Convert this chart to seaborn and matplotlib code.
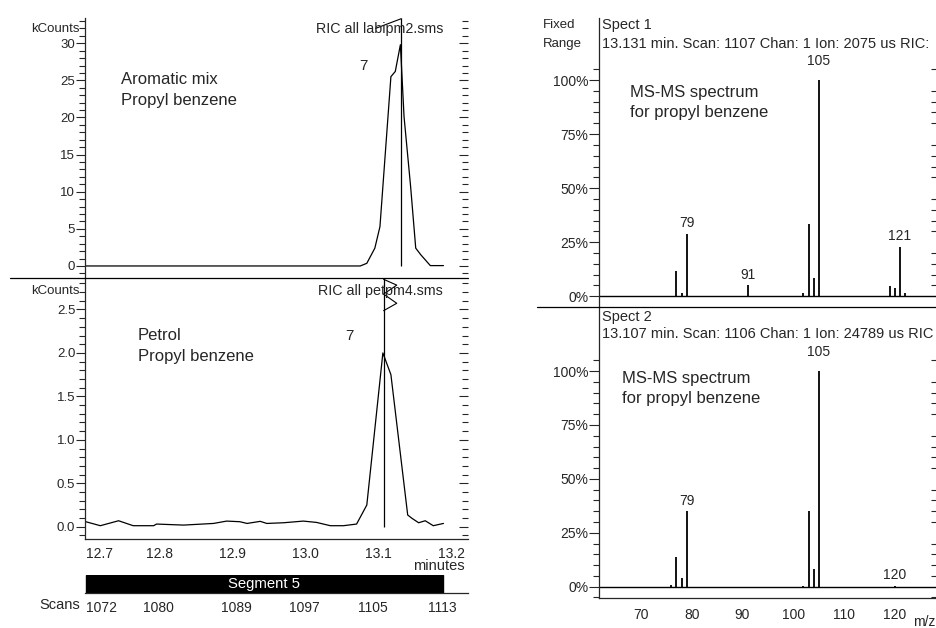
import matplotlib
matplotlib.use("Agg")
import matplotlib.pyplot as plt
import seaborn as sns
import pandas as pd
from matplotlib.lines import Line2D
from matplotlib.ticker import FixedLocator, MultipleLocator

# ---------------- data ----------------
# Chromatogram 1: Aromatic mix (kCounts vs minutes)
ric1_time = [12.699, 13.075, 13.084, 13.095, 13.102, 13.117, 13.123, 13.130,
             13.135, 13.144, 13.151, 13.158, 13.171, 13.189]
ric1_kcounts = [0.0, 0.0, 0.36, 2.4, 5.3, 25.5, 26.2, 29.8,
                20.1, 10.7, 2.4, 1.5, 0.05, 0.05]
ric1_marker = 13.131

# Chromatogram 2: Petrol (kCounts vs minutes)
ric2_time = [12.699, 12.719, 12.744, 12.764, 12.792, 12.796, 12.833, 12.874,
             12.892, 12.910, 12.920, 12.938, 12.947, 12.970, 12.997, 13.015,
             13.034, 13.052, 13.070, 13.084, 13.106, 13.117, 13.140, 13.146,
             13.155, 13.164, 13.175, 13.189]
ric2_kcounts = [0.058, 0.012, 0.069, 0.012, 0.012, 0.031, 0.019, 0.038,
                0.065, 0.058, 0.038, 0.062, 0.038, 0.046, 0.065, 0.050,
                0.012, 0.012, 0.031, 0.25, 2.0, 1.75, 0.135, 0.096,
                0.046, 0.069, 0.012, 0.038]
ric2_marker = 13.107

time_ticks = [12.7, 12.8, 12.9, 13.0, 13.1, 13.2]
time_labels = ["12.7", "12.8", "12.9", "13.0", "13.1", "13.2"]
scan_labels = ["1072", "1080", "1089", "1097", "1105", "1113"]
scan_times = [12.699, 12.798, 12.905, 12.999, 13.0925, 13.188]

# Spectrum 1 (scan 1107)
spec1_mz = [77, 78, 79, 91, 102, 103, 104, 105, 119, 120, 121, 122]
spec1_int = [11.6, 1.7, 29.0, 5.1, 1.7, 33.6, 8.5, 100.0, 4.6, 4.0, 23.0, 1.7]
spec1_labels = [79, 91, 105, 121]

# Spectrum 2 (scan 1106)
spec2_mz = [76, 77, 78, 79, 102, 103, 104, 105, 120]
spec2_int = [0.8, 13.6, 4.2, 35.0, 0.5, 35.0, 8.0, 100.0, 0.5]
spec2_labels = [79, 105, 120]

pct_ticks = [0, 25, 50, 75, 100]
pct_labels = ["0%", "25%", "50%", "75%", "100%"]
mz_ticks = [70, 80, 90, 100, 110, 120]

# ---------------- style ----------------
sns.set_style("white")
plt.rcParams['font.family'] = ['Liberation Sans', 'DejaVu Sans']
plt.rcParams['axes.linewidth'] = 0.9
plt.rcParams['xtick.major.width'] = 0.8
plt.rcParams['ytick.major.width'] = 0.8
plt.rcParams['xtick.minor.width'] = 0.8
plt.rcParams['ytick.minor.width'] = 0.8

W, H = 937, 628
fig = plt.figure(figsize=(W / 100, H / 100), dpi=100)
fig.patch.set_facecolor("white")


def ax_at(x0, y0, x1, y1):
    return fig.add_axes([x0 / W, 1 - y1 / H, (x1 - x0) / W, (y1 - y0) / H])


def ftext(x, y, s, **kw):
    kw.setdefault("va", "center")
    fig.text(x / W, 1 - y / H, s, **kw)


def hline_px(x0, x1, y):
    fig.add_artist(Line2D([x0 / W, x1 / W], [1 - y / H, 1 - y / H],
                          color="black", lw=0.9))


def style_y(ax, major, minor, fmt_labels=None, fs=9.5):
    ax.yaxis.set_major_locator(FixedLocator(major))
    ax.yaxis.set_minor_locator(FixedLocator(minor))
    if fmt_labels is not None:
        ax.set_yticklabels(fmt_labels)
    ax.tick_params(axis="y", which="both", left=True, right=True,
                   direction="out", labelsize=fs, pad=0.5)
    ax.tick_params(axis="y", which="major", length=6.5)
    ax.tick_params(axis="y", which="minor", length=4)
    # right side ticks point inward
    for t in ax.yaxis.get_major_ticks() + ax.yaxis.get_minor_ticks():
        t.tick2line.set_marker(matplotlib.markers.TICKLEFT)


T_LEFT, T_RIGHT = 12.698, 13.2226

# ---------- top-left chromatogram ----------
ax1 = ax_at(85, 18, 468, 278)
sns.lineplot(x=ric1_time, y=ric1_kcounts, ax=ax1, color="black", lw=0.9)
ax1.set_xlim(T_LEFT, T_RIGHT)
ax1.set_ylim(-1.62, 33.4)
for s in ["top", "bottom", "right"]:
    ax1.spines[s].set_visible(False)
ax1.set_xticks([])
style_y(ax1, [0, 5, 10, 15, 20, 25, 30], list(range(-1, 34)))
ax1.set_yticklabels(["0", "5", "10", "15", "20", "25", "30"])
ax1.vlines(ric1_marker, 0, 33.4, color="black", lw=0.9)
ax1.plot([ric1_marker - 0.035, ric1_marker], [32.0, 33.3], color="black", lw=0.8)
ax1.text(13.08, 27.0, "7", fontsize=11, ha="center", va="center")

# ---------- bottom-left chromatogram ----------
ax2 = ax_at(85, 278, 468, 539)
sns.lineplot(x=ric2_time, y=ric2_kcounts, ax=ax2, color="black", lw=0.9)
ax2.set_xlim(T_LEFT, T_RIGHT)
ax2.set_ylim(-0.141, 2.862)
for s in ["top", "right"]:
    ax2.spines[s].set_visible(False)
style_y(ax2, [0, 0.5, 1.0, 1.5, 2.0, 2.5], [i / 10 for i in range(-1, 29)])
ax2.set_yticklabels(["0.0", "0.5", "1.0", "1.5", "2.0", "2.5"])
ax2.xaxis.set_major_locator(FixedLocator(time_ticks))
ax2.xaxis.set_minor_locator(MultipleLocator(0.01))
ax2.set_xticklabels(time_labels)
ax2.tick_params(axis="x", which="both", direction="out", labelsize=10, pad=-3)
ax2.tick_params(axis="x", which="major", length=9)
ax2.tick_params(axis="x", which="minor", length=5)
ax2.get_xticklabels()[0].set_ha("left")
ax2.vlines(ric2_marker, 0, 2.862, color="black", lw=0.9)
flag_dx = 0.018
ax2.plot([ric2_marker, ric2_marker + flag_dx, ric2_marker, ric2_marker + flag_dx, ric2_marker],
         [2.847, 2.78, 2.677, 2.571, 2.486], color="black", lw=0.8)
ax2.text(13.06, 2.19, "7", fontsize=11, ha="center", va="center")

# ---------- segment / scans strip ----------
axs = ax_at(85, 575, 468, 593)
axs.set_xlim(T_LEFT, T_RIGHT)
axs.set_ylim(0, 1)
axs.axvspan(scan_times[0], scan_times[-1], color="black")
for s in ["top", "left", "right"]:
    axs.spines[s].set_visible(False)
axs.set_yticks([])
axs.xaxis.set_major_locator(FixedLocator(scan_times))
axs.set_xticklabels(scan_labels)
axs.tick_params(axis="x", direction="out", length=6, labelsize=10, pad=-0.5)
axs.get_xticklabels()[0].set_ha("left")
axs.text(0.5 * (scan_times[0] + scan_times[-1]), 0.5, "Segment 5",
         color="white", fontsize=10.7, ha="center", va="center")

# ---------- right spectra ----------
MZ_LEFT, MZ_RIGHT = 61.75, 128.29


def spectrum(ax, mz, inten, labels, ylim):
    ax.vlines(mz, 0, inten, color="black", lw=1.3)
    sns.lineplot(x=[MZ_LEFT, MZ_RIGHT], y=[0, 0], ax=ax, color="black", lw=1.0)
    ax.set_xlim(MZ_LEFT, MZ_RIGHT)
    ax.set_ylim(*ylim)
    for s in ["top", "right"]:
        ax.spines[s].set_visible(False)
    style_y(ax, pct_ticks, list(range(-5, 106, 5)), pct_labels, fs=10)
    ax.tick_params(axis="y", which="major", length=7)
    for m in labels:
        v = inten[mz.index(m)]
        off = 14 if v >= 99 else 7.5
        ax.annotate(str(m), (m, v), xytext=(0, off), textcoords="offset points",
                    ha="center", va="center", fontsize=10)


ax3 = ax_at(599, 18, 937, 307)
spectrum(ax3, spec1_mz, spec1_int, spec1_labels, (-4.95, 128.7))
ax3.spines["bottom"].set_visible(False)
ax3.set_xticks([])

ax4 = ax_at(599, 307, 937, 597.7)
spectrum(ax4, spec2_mz, spec2_int, spec2_labels, (-5.1, 129.7))
ax4.xaxis.set_major_locator(FixedLocator(mz_ticks))
ax4.xaxis.set_minor_locator(MultipleLocator(2))
ax4.tick_params(axis="x", which="both", direction="out", labelsize=10, pad=0.5)
ax4.tick_params(axis="x", which="major", length=7)
ax4.tick_params(axis="x", which="minor", length=4)

# ---------- separator lines ----------
hline_px(10, 468, 278)
hline_px(537, 937, 307)

# ---------- texts ----------
ftext(80, 29.5, "kCounts", fontsize=9.5, ha="right")
ftext(443, 29.5, "RIC all labipm2.sms", fontsize=10.3, ha="right")
ftext(121, 80, "Aromatic mix", fontsize=12, ha="left")
ftext(121, 100.5, "Propyl benzene", fontsize=12, ha="left")

ftext(80, 291.5, "kCounts", fontsize=9.5, ha="right")
ftext(443, 291.5, "RIC all petpm4.sms", fontsize=10.3, ha="right")
ftext(138, 336, "Petrol", fontsize=12, ha="left")
ftext(138, 357, "Propyl benzene", fontsize=12, ha="left")
ftext(465, 566.5, "minutes", fontsize=10.5, ha="right")
ftext(80, 605, "Scans", fontsize=10.5, ha="right")

ftext(543, 25, "Fixed", fontsize=9.5, ha="left")
ftext(543, 43.5, "Range", fontsize=9.5, ha="left")
ftext(602, 25, "Spect 1", fontsize=10.5, ha="left")
ftext(602, 43.5, "13.131 min. Scan: 1107 Chan: 1 Ion: 2075 us RIC:", fontsize=10.5, ha="left")
ftext(630, 92, "MS-MS spectrum", fontsize=12, ha="left")
ftext(630, 113, "for propyl benzene", fontsize=12, ha="left")

ftext(602, 317, "Spect 2", fontsize=10.5, ha="left")
ftext(602, 334.5, "13.107 min. Scan: 1106 Chan: 1 Ion: 24789 us RIC", fontsize=10.5, ha="left")
ftext(622, 378.5, "MS-MS spectrum", fontsize=12, ha="left")
ftext(622, 399, "for propyl benzene", fontsize=12, ha="left")
ftext(913, 622, "m/z", fontsize=10, ha="left")

fig.savefig("out.png", dpi=100, facecolor="white")
